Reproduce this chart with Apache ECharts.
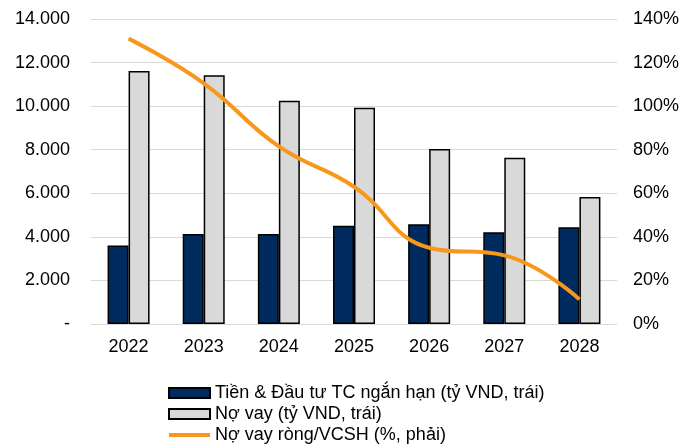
<!DOCTYPE html>
<html>
<head>
<meta charset="utf-8">
<script src="https://cdn.jsdelivr.net/npm/echarts@6/dist/echarts.min.js"></script>
<style>
  * { margin: 0; padding: 0; }
  body { background: #fff; }
</style>
</head>
<body>
<!-- khung chứa biểu đồ -->
<div id="chart" style="width: 693px; height: 448px;"></div>
<script>
var years = ['2022', '2023', '2024', '2025', '2026', '2027', '2028'];
var tienDauTu = [3600, 4130, 4130, 4510, 4580, 4210, 4440];   // tỷ VND, trái
var noVay = [11610, 11420, 10250, 9930, 8030, 7630, 5830];     // tỷ VND, trái
var noVayRong = [131, 110.5, 81.5, 63, 35, 31.5, 11.3];        // %, phải

var leftTicks = { min: 0, max: 14000, interval: 2000 };
var rightTicks = { min: 0, max: 140, interval: 20 };

var fontFam = 'Arial, "Liberation Sans", sans-serif';

var chart = echarts.init(document.getElementById('chart'));
chart.setOption({
  animation: false,
  textStyle: { fontFamily: fontFam },
  grid: {
    left: 91,
    right: 76,
    top: 19,
    bottom: 124
  },
  legend: {
    orient: 'vertical',
    left: 163,
    top: 379,
    height: 120,
    itemWidth: 41,
    itemHeight: 10,
    itemGap: 3,
    textStyle: { fontSize: 18, color: '#000', fontFamily: fontFam },
    data: [
      { name: 'Tiền & Đầu tư TC ngắn hạn (tỷ VND, trái)', icon: 'rect' },
      { name: 'Nợ vay (tỷ VND, trái)', icon: 'rect' },
      { name: 'Nợ vay ròng/VCSH (%, phải)', icon: 'path://M0,0 L41,0 L41,4 L0,4 Z' }
    ]
  },
  xAxis: {
    type: 'category',
    data: years,
    axisLine: { show: false },
    axisTick: { show: false },
    axisLabel: { fontSize: 18, color: '#000', margin: 14 }
  },
  yAxis: [
    {
      type: 'value',
      min: leftTicks.min,
      max: leftTicks.max,
      interval: leftTicks.interval,
      axisLine: { show: false },
      axisTick: { show: false },
      splitLine: { lineStyle: { color: '#d9d9d9', width: 1 } },
      axisLabel: {
        fontSize: 18,
        color: '#000',
        margin: 21,
        formatter: function (v) {
          if (v === 0) return '-';
          return String(v).replace(/\B(?=(\d{3})+(?!\d))/g, '.');
        }
      }
    },
    {
      type: 'value',
      min: rightTicks.min,
      max: rightTicks.max,
      interval: rightTicks.interval,
      axisLine: { show: false },
      axisTick: { show: false },
      splitLine: { show: false },
      axisLabel: {
        fontSize: 18,
        color: '#000',
        margin: 16,
        formatter: '{value}%'
      }
    }
  ],
  series: [
    {
      name: 'Tiền & Đầu tư TC ngắn hạn (tỷ VND, trái)',
      type: 'bar',
      yAxisIndex: 0,
      barWidth: 21,
      barGap: '0%',
      itemStyle: { color: '#002b5e', borderColor: '#000', borderWidth: 1.5 },
      data: tienDauTu
    },
    {
      name: 'Nợ vay (tỷ VND, trái)',
      type: 'bar',
      yAxisIndex: 0,
      barWidth: 21,
      barGap: '0%',
      itemStyle: { color: '#d9d9d9', borderColor: '#000', borderWidth: 1.5 },
      data: noVay
    },
    {
      name: 'Nợ vay ròng/VCSH (%, phải)',
      type: 'line',
      yAxisIndex: 1,
      smooth: 0.45,
      symbol: 'none',
      lineStyle: { color: '#f7981d', width: 4 },
      itemStyle: { color: '#f7981d' },
      data: noVayRong
    }
  ]
});
</script>
</body>
</html>
